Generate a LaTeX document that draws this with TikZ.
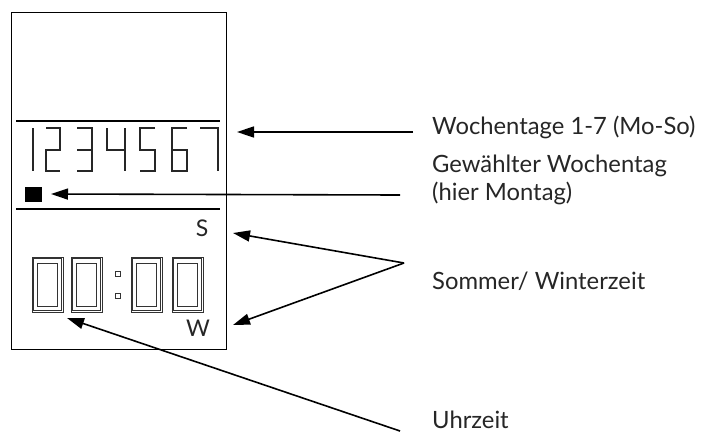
\documentclass[tikz,border=0pt]{standalone}
\usepackage{fontspec}
\setmainfont{Lato}
\usetikzlibrary{arrows.meta}
\begin{document}
\begin{tikzpicture}[x=1pt,y=-1pt,
  frame/.style={draw=black,line width=1pt},
  sepline/.style={draw=black,line width=1.7pt},
  segment/.style={draw=black!85,line width=1.6pt,line join=miter},
  lcdzero/.style={draw=black!80,line width=0.8pt},
  pointer/.style={draw=black,line width=1.6pt,-{Triangle[length=17pt,width=11pt]}},
  callout/.style={anchor=west,inner sep=0pt,font=\fontsize{23.8}{28}\selectfont,align=left,text=black!85},
  symb/.style={inner sep=0pt,font=\fontsize{23}{23}\selectfont,text=black!85}]
\useasboundingbox (0,0) rectangle (707,432);

% display housing
\draw[frame] (11,12) rectangle (226,349);
\draw[sepline] (16,121) -- (220,121);
\draw[sepline] (16,209) -- (220,209);

% weekday digits 1..7
\draw[segment] (33,128) -- (33,171);
\draw[segment] (46,128) -- (60,128) -- (60,150) -- (46,150) -- (46,171) -- (60,171);
\draw[segment] (77,128) -- (92,128) -- (92,171) -- (77,171) (77,150) -- (92,150);
\draw[segment] (107,128) -- (107,150) -- (125,150) (125,128) -- (125,171);
\draw[segment] (155,128) -- (140,128) -- (140,150) -- (155,150) -- (155,171) -- (140,171);
\draw[segment] (187,128) -- (172,128) -- (172,171) -- (187,171) -- (187,150) -- (172,150);
\draw[segment] (200,128) -- (218,128) -- (218,171);
\coordinate (days) at (237,132);

% selected weekday marker
\node[fill=black,minimum width=17pt,minimum height=15pt,inner sep=0pt] (sel) at (33.5,194) {};
\coordinate (selTip) at (51,194);

% summer / winter time indicators
\node[symb] (sym S) at (202,228) {S};
\node[symb] (sym W) at (198,328) {W};
\coordinate (sTip) at (233,233);
\coordinate (wTip) at (233,325);

% clock digits 00:00
\foreach \l in {32,71,131,172}{
  \draw[lcdzero] (\l,257) rectangle ++(31,55);
  \draw[lcdzero] (\l+1.6,258.6) rectangle ++(27.8,51.8);
  \draw[lcdzero] (\l+5.5,263) rectangle ++(20,43);
}
\draw[lcdzero] (115,271) rectangle ++(5,5);
\draw[lcdzero] (115,293) rectangle ++(5,5);
\coordinate (clockTip) at (67,318);

% callout texts
\node[callout] (lblDays) at (432,127) {Wochentage 1-7 (Mo-So)};
\node[callout] (lblSel) at (432,180) {Gewählter Wochentag\\(hier Montag)};
\node[callout] (lblSW) at (432,281) {Sommer/ Winterzeit};
\node[callout,anchor=base west,text depth=0pt] (lblClock) at (432,428) {Uhrzeit};

% leader lines
\coordinate (daysEnd) at (413,132);
\coordinate (selEnd) at (400,195);
\coordinate (swApex) at (404,263);
\coordinate (clockEnd) at (400,431);
\draw[pointer] (daysEnd) -- (days);
\draw[pointer] (selEnd) -- (selTip);
\draw[pointer] (swApex) -- (sTip);
\draw[pointer] (swApex) -- (wTip);
\draw[pointer] (clockEnd) -- (clockTip);
\end{tikzpicture}
\end{document}
